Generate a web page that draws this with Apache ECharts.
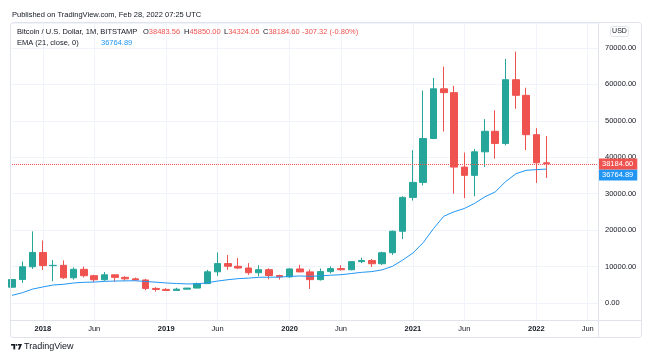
<!DOCTYPE html>
<html>
<head>
<meta charset="utf-8">
<script src="https://cdn.jsdelivr.net/npm/echarts@6/dist/echarts.min.js"></script>
<style>
html,body{margin:0;padding:0;background:#fff;}
#c{width:664px;height:361px;}
</style>
</head>
<body>
<div id="c"></div>
<script>
// Categories (monthly)
const months = ['2017-10','2017-11','2017-12',
 '2018-01','2018-02','2018-03','2018-04','2018-05','2018-06','2018-07','2018-08','2018-09','2018-10','2018-11','2018-12',
 '2019-01','2019-02','2019-03','2019-04','2019-05','2019-06','2019-07','2019-08','2019-09','2019-10','2019-11','2019-12',
 '2020-01','2020-02','2020-03','2020-04','2020-05','2020-06','2020-07','2020-08','2020-09','2020-10','2020-11','2020-12',
 '2021-01','2021-02','2021-03','2021-04','2021-05','2021-06','2021-07','2021-08','2021-09','2021-10','2021-11','2021-12',
 '2022-01','2022-02','2022-03','2022-04','2022-05','2022-06','2022-07'];

const opens = [4338,6458,9946,
 13860,10265,10333,6926,9245,7495,6390,7730,7035,6625,6320,4000,
 3730,3440,3800,4100,5320,8560,10820,10080,9600,8300,9150,7550,
 7190,9350,8540,6410,8620,9450,9135,11350,11660,10780,13800,19700,
 28990,33110,45150,58800,57750,37300,35040,41500,47130,43800,61300,57000,
 46200,38483.56];
const highs = [6470,11395,19666,
 17176,11789,11700,9759,9990,7760,8500,7750,7400,7000,6620,4350,
 4070,4190,4100,5600,9090,13880,13200,12330,10950,10370,9520,7750,
 9580,10500,9190,9460,10070,10380,11440,12470,12070,14100,19880,29300,
 41950,58330,61790,64900,59600,41300,42300,50500,52900,67000,69000,59100,
 47990,45850.00];
const lows = [4110,5507,9380,
 9035,5968,6600,6425,7035,5755,6080,5880,6115,6200,3500,3120,
 3350,3390,3700,4050,5320,7430,9100,9320,7710,7300,6520,6430,
 6850,8450,3850,6150,8110,8900,8970,10960,9880,10420,13200,17570,
 28130,32300,45000,47040,30000,28800,29300,37330,39600,43300,53300,42000,
 32950,34324.05];
const closes = [6458,9946,13860,
 10265,10333,6926,9245,7495,6390,7730,7035,6625,6320,4000,3730,
 3440,3800,4100,5320,8560,10820,10080,9600,8300,9150,7550,7190,
 9350,8540,6410,8620,9450,9135,11350,11660,10780,13800,19700,28990,
 33110,45150,58800,57750,37300,35040,41500,47130,43800,61300,57000,46200,
 38484,38184.60];
// EMA (21, close) values
const ema = [2100,2813,3817,
 4403,4942,5122,5497,5679,5744,5924,6025,6080,6102,5911,5713,
 5506,5351,5237,5245,5546,6025,6394,6685,6832,7043,7089,7098,
 7303,7415,7324,7442,7625,7762,8088,8413,8628,9098,10062,11783,
 13722,16579,20417,23811,25037,25946,27360,29157,30488,33289,35444,36422,
 36609,36764.89];
const lastClose = 38184.60;
const lastEma = 36764.89;

const UP = '#26a69a', DOWN = '#ef5350', BLUE = '#2196f3', TXT = '#131722', GRID = '#f0f3fa', BORDER = '#e0e3eb';
const FONT = 'Liberation Sans';
const F = '7.5px "' + FONT + '"';

const candleData = opens.map((o, i) => [o, closes[i], lows[i], highs[i]]);
const isMark = v => { const m = v.slice(5); return m === '01' || m === '06'; };

const chart = echarts.init(document.getElementById('c'), null, {renderer: 'canvas'});
const kv = (k, v, x) => ({type: 'text', left: x, top: 27.5, z: 20,
  style: {text: '{k|' + k + '}{v|' + v + '}', rich: {k: {fill: TXT, fontSize: 7.5, fontFamily: FONT}, v: {fill: DOWN, fontSize: 7.5, fontFamily: FONT}}}});
const option = {
  animation: false,
  backgroundColor: '#fff',
  textStyle: {fontFamily: FONT},
  grid: {left: 12, right: 66, top: 23, bottom: 41, show: false},
  xAxis: {
    type: 'category', data: months, boundaryGap: false,
    axisLine: {show: false}, axisTick: {show: false},
    axisLabel: {
      interval: (i, v) => isMark(v),
      formatter: v => v.slice(5) === '01' ? '{y|' + v.slice(0, 4) + '}' : 'Jun',
      color: TXT, fontSize: 7.5, margin: 5, fontFamily: FONT,
      rich: {y: {fontWeight: 'bold', fontSize: 7.5, color: TXT, fontFamily: FONT}}
    },
    splitLine: {show: true, interval: (i, v) => isMark(v), lineStyle: {color: GRID, width: 1}}
  },
  yAxis: {
    type: 'value', position: 'right', min: -4667, max: 76863, splitNumber: 8,
    axisLine: {show: false}, axisTick: {show: false},
    axisLabel: {showMinLabel: false, showMaxLabel: false, formatter: v => v.toFixed(2),
      color: TXT, fontSize: 7.5, margin: 7, fontFamily: FONT},
    splitLine: {lineStyle: {color: GRID, width: 1}}
  },
  series: [
    {
      type: 'candlestick', data: candleData, barWidth: 7,
      itemStyle: {color: UP, color0: DOWN, borderColor: UP, borderColor0: DOWN, borderWidth: 1},
      markLine: {
        silent: true, symbol: ['none', 'none'], z: 6,
        lineStyle: {color: DOWN, type: 'dotted', width: 1},
        label: {position: 'end', color: '#fff', padding: [2, 4, 1, 4], fontSize: 7.5, distance: 0, fontFamily: FONT},
        data: [
          {yAxis: lastEma, lineStyle: {color: 'rgba(0,0,0,0)', width: 0},
           label: {formatter: lastEma.toFixed(2), backgroundColor: BLUE, offset: [0, 6]}},
          {yAxis: lastClose, label: {formatter: lastClose.toFixed(2), backgroundColor: DOWN}}
        ]
      }
    },
    {
      type: 'line', data: ema, symbol: 'none', smooth: false,
      lineStyle: {color: BLUE, width: 1}
    }
  ],
  graphic: [
    {type: 'rect', shape: {x: 10.5, y: 22.5, width: 631, height: 315, r: 3}, style: {fill: 'none', stroke: BORDER, lineWidth: 1}, z: 10, silent: true},
    {type: 'line', shape: {x1: 598.5, y1: 22.5, x2: 598.5, y2: 337.5}, style: {stroke: BORDER, lineWidth: 1}, z: 10},
    {type: 'line', shape: {x1: 10.5, y1: 320.5, x2: 641.5, y2: 320.5}, style: {stroke: BORDER, lineWidth: 1}, z: 10},
    {type: 'text', left: 12, top: 10.5, style: {text: 'Published on TradingView.com, Feb 28, 2022 07:25 UTC', fill: TXT, font: F}, z: 20},
    {type: 'text', left: 17, top: 27.5, style: {text: 'Bitcoin / U.S. Dollar, 1M, BITSTAMP', fill: TXT, font: F}, z: 20},
    kv('O', '38483.56', 143),
    kv('H', '45850.00', 184),
    kv('L', '34324.05', 224),
    kv('C', '38184.60', 263),
    {type: 'text', left: 302, top: 27.5, style: {text: '-307.32 (-0.80%)', fill: DOWN, font: F}, z: 20},
    {type: 'text', left: 17, top: 38.5, style: {text: 'EMA (21, close, 0)', fill: TXT, font: F}, z: 20},
    {type: 'text', left: 101, top: 38.5, style: {text: '36764.89', fill: BLUE, font: F}, z: 20},
    {type: 'rect', shape: {x: 610.5, y: 26.5, width: 18, height: 10, r: 2}, style: {fill: '#fff', stroke: BORDER, lineWidth: 1}, z: 20},
    {type: 'text', x: 619.5, y: 31.5, style: {text: 'USD', fill: TXT, font: '7px "' + FONT + '"', textAlign: 'center', textVerticalAlign: 'middle'}, z: 21},
    // TradingView logo
    {type: 'group', left: 11, top: 344, z: 20, children: [
      {type: 'rect', shape: {x: 0, y: 0, width: 4.2, height: 1.6}, style: {fill: TXT}},
      {type: 'rect', shape: {x: 2.4, y: 0, width: 1.8, height: 5.4}, style: {fill: TXT}},
      {type: 'circle', shape: {cx: 5.6, cy: 0.9, r: 0.9}, style: {fill: TXT}},
      {type: 'polygon', shape: {points: [[7, 0], [11, 0], [8.8, 5.4], [7, 5.4], [8.6, 1.6], [7, 1.6]]}, style: {fill: TXT}}
    ]},
    {type: 'text', left: 24, top: 342, style: {text: 'TradingView', fill: TXT, font: '9px "' + FONT + '"'}, z: 20}
  ]
};
chart.setOption(option);
</script>
</body>
</html>
